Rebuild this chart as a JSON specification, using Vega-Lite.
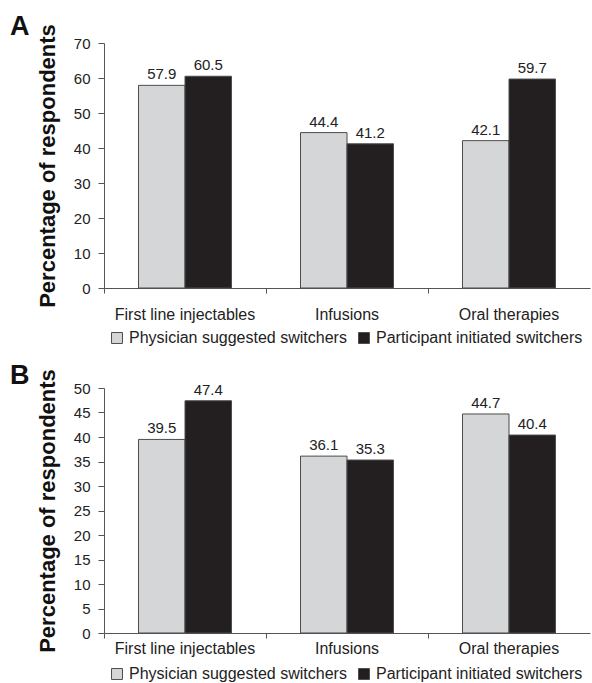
{
  "$schema": "https://vega.github.io/schema/vega-lite/v6.json",
  "padding": {"left": 10, "top": 12, "right": 2, "bottom": 0},
  "background": "white",
  "config": {
    "font": "Liberation Sans",
    "view": {"stroke": null},
    "axis": {"domainColor": "#555555", "tickColor": "#555555", "labelColor": "#222222", "labelFontSize": 15, "grid": false, "titleColor": "#111111"},
    "legend": {"labelColor": "#222222"}
  },
  "datasets": {
    "d": [
      {"panel": "A", "category": "First line injectables", "group": "Physician suggested switchers", "value": 57.9},
      {"panel": "A", "category": "First line injectables", "group": "Participant initiated switchers", "value": 60.5},
      {"panel": "A", "category": "Infusions", "group": "Physician suggested switchers", "value": 44.4},
      {"panel": "A", "category": "Infusions", "group": "Participant initiated switchers", "value": 41.2},
      {"panel": "A", "category": "Oral therapies", "group": "Physician suggested switchers", "value": 42.1},
      {"panel": "A", "category": "Oral therapies", "group": "Participant initiated switchers", "value": 59.7},
      {"panel": "B", "category": "First line injectables", "group": "Physician suggested switchers", "value": 39.5},
      {"panel": "B", "category": "First line injectables", "group": "Participant initiated switchers", "value": 47.4},
      {"panel": "B", "category": "Infusions", "group": "Physician suggested switchers", "value": 36.1},
      {"panel": "B", "category": "Infusions", "group": "Participant initiated switchers", "value": 35.3},
      {"panel": "B", "category": "Oral therapies", "group": "Physician suggested switchers", "value": 44.7},
      {"panel": "B", "category": "Oral therapies", "group": "Participant initiated switchers", "value": 40.4}
    ]
  },
  "resolve": {"legend": {"color": "independent"}},
  "spacing": 15,
  "vconcat": [
    {
      "width": 486,
      "height": 245,
      "title": {"text": "A", "anchor": "start", "frame": "group", "dx": -94, "dy": 25, "fontSize": 27, "fontWeight": "bold", "offset": 8, "color": "#111111"},
      "data": {"name": "d"},
      "transform": [{"filter": "datum.panel == 'A'"}],
      "encoding": {
        "x": {"field": "category", "type": "nominal", "sort": ["First line injectables", "Infusions", "Oral therapies"], "scale": {"paddingInner": 0, "paddingOuter": 0},
          "axis": {"title": null, "labelAngle": 0, "bandPosition": 0, "labelFontSize": 16, "tickSize": 5, "labelPadding": 13}},
        "xOffset": {"field": "group", "type": "nominal", "sort": ["Physician suggested switchers", "Participant initiated switchers"], "scale": {"paddingInner": 0, "paddingOuter": 0.742}},
        "y": {"field": "value", "type": "quantitative", "scale": {"domain": [0, 70]},
          "axis": {"values": [0, 10, 20, 30, 40, 50, 60, 70], "title": "Percentage of respondents", "titleFontSize": 22, "titleFontWeight": "bold", "tickSize": 6, "labelPadding": 8, "titlePadding": 14}}
      },
      "layer": [
        {
          "mark": {"type": "bar", "stroke": "#4d4d4d", "strokeWidth": 1},
          "encoding": {
            "color": {"field": "group", "type": "nominal", "sort": ["Physician suggested switchers", "Participant initiated switchers"],
              "scale": {"domain": ["Physician suggested switchers", "Participant initiated switchers"], "range": ["#d5d6d8", "#231f20"]},
              "legend": {"title": null, "orient": "none", "legendX": 5, "legendY": 287, "direction": "horizontal", "symbolType": "square", "symbolSize": 120, "symbolStrokeColor": "#4d4d4d", "symbolStrokeWidth": 1, "symbolOpacity": 1, "labelFontSize": 16, "labelLimit": 300, "columnPadding": 9, "labelOffset": 4}}
          }
        },
        {
          "mark": {"type": "text", "baseline": "bottom", "dy": -3, "fontSize": 15, "color": "#222222"},
          "encoding": {"text": {"field": "value", "type": "quantitative", "format": ".1f"}}
        }
      ]
    },
    {
      "width": 486,
      "height": 245,
      "title": {"text": "B", "anchor": "start", "frame": "group", "dx": -94, "dy": 29, "fontSize": 27, "fontWeight": "bold", "offset": 8, "color": "#111111"},
      "data": {"name": "d"},
      "transform": [{"filter": "datum.panel == 'B'"}],
      "encoding": {
        "x": {"field": "category", "type": "nominal", "sort": ["First line injectables", "Infusions", "Oral therapies"], "scale": {"paddingInner": 0, "paddingOuter": 0},
          "axis": {"title": null, "labelAngle": 0, "bandPosition": 0, "labelFontSize": 16, "tickSize": 5, "labelPadding": 2}},
        "xOffset": {"field": "group", "type": "nominal", "sort": ["Physician suggested switchers", "Participant initiated switchers"], "scale": {"paddingInner": 0, "paddingOuter": 0.742}},
        "y": {"field": "value", "type": "quantitative", "scale": {"domain": [0, 50]},
          "axis": {"values": [0, 5, 10, 15, 20, 25, 30, 35, 40, 45, 50], "title": "Percentage of respondents", "titleFontSize": 22, "titleFontWeight": "bold", "tickSize": 6, "labelPadding": 8, "titlePadding": 14}}
      },
      "layer": [
        {
          "mark": {"type": "bar", "stroke": "#4d4d4d", "strokeWidth": 1},
          "encoding": {
            "color": {"field": "group", "type": "nominal", "sort": ["Physician suggested switchers", "Participant initiated switchers"],
              "scale": {"domain": ["Physician suggested switchers", "Participant initiated switchers"], "range": ["#d5d6d8", "#231f20"]},
              "legend": {"title": null, "orient": "none", "legendX": 5, "legendY": 278, "direction": "horizontal", "symbolType": "square", "symbolSize": 120, "symbolStrokeColor": "#4d4d4d", "symbolStrokeWidth": 1, "symbolOpacity": 1, "labelFontSize": 16, "labelLimit": 300, "columnPadding": 9, "labelOffset": 4}}
          }
        },
        {
          "mark": {"type": "text", "baseline": "bottom", "dy": -3, "fontSize": 15, "color": "#222222"},
          "encoding": {"text": {"field": "value", "type": "quantitative", "format": ".1f"}}
        }
      ]
    }
  ]
}
